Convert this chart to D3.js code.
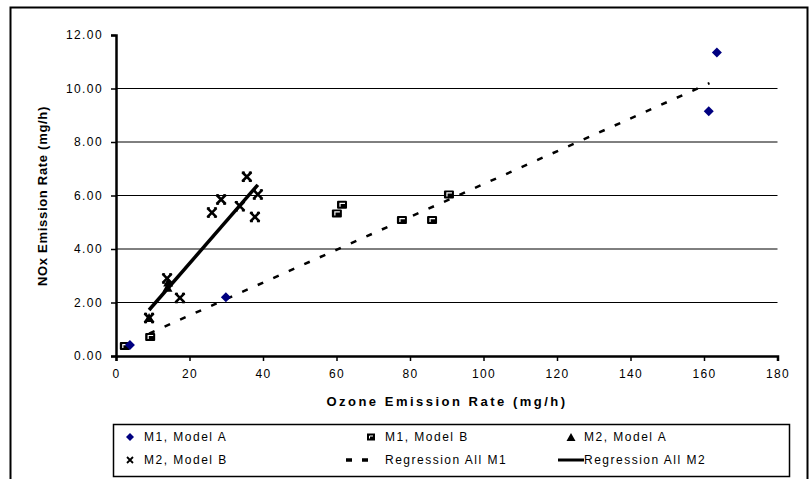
<!DOCTYPE html>
<html>
<head>
<meta charset="utf-8">
<script src="https://cdn.jsdelivr.net/npm/d3@7"></script>
<style>
  body { margin: 0; background: #fff; }
  text { font-family: "Liberation Sans", Arial, sans-serif; }
</style>
</head>
<body>
<div id="chart"></div>
<script>
// data
var m1A = [[3.8, 0.41], [29.9, 2.2], [161.3, 9.15], [163.5, 11.35]];
var m1B = [[2.4, 0.37], [9.3, 0.71], [60.1, 5.33], [61.5, 5.65], [77.8, 5.08], [86.0, 5.08], [90.6, 6.04]];
var m2A = [[9.0, 1.42], [14.0, 2.55], [14.2, 2.75]];
var m2B = [[9.0, 1.42], [13.9, 2.9], [17.4, 2.17], [26.1, 5.36], [28.6, 5.85], [33.7, 5.6], [35.6, 6.7], [37.8, 5.2], [38.6, 6.04]];
var regM1 = [[9.0, 0.84], [161.5, 10.2]];
var regM2 = [[9.0, 1.72], [38.6, 6.4]];
var xTicks = [0, 20, 40, 60, 80, 100, 120, 140, 160, 180];
var yTicks = [0, 2, 4, 6, 8, 10, 12];

var width = 810, height = 479;
var svg = d3.select("#chart").append("svg")
    .attr("width", width).attr("height", height);

// outer chart frame
svg.append("rect")
    .attr("x", 10.5).attr("y", 7.5)
    .attr("width", 797).attr("height", 490)
    .attr("fill", "none").attr("stroke", "#000").attr("stroke-width", 2);

var x = d3.scaleLinear().domain([0, 180]).range([116, 777.5]);
var y = d3.scaleLinear().domain([0, 12]).range([356, 35]);

// gridlines (not at top)
svg.append("g").selectAll("line")
    .data(yTicks.filter(function (d) { return d > 0 && d < 12; }))
    .enter().append("line")
    .attr("x1", x(0)).attr("x2", x(180))
    .attr("y1", function (d) { return y(d); })
    .attr("y2", function (d) { return y(d); })
    .attr("stroke", "#000").attr("stroke-width", 1);

// axes
var xAxis = svg.append("g")
    .attr("transform", "translate(0," + y(0) + ")")
    .call(d3.axisBottom(x).tickValues(xTicks).tickSize(5).tickPadding(8).tickFormat(d3.format("d")));
var yAxis = svg.append("g")
    .attr("transform", "translate(" + x(0) + ",0)")
    .call(d3.axisLeft(y).tickValues(yTicks).tickSize(5).tickPadding(8).tickFormat(d3.format(".2f")));

[xAxis, yAxis].forEach(function (a) {
    a.select(".domain").attr("stroke-width", 2.5);
    a.selectAll(".tick line").attr("stroke-width", 1.5);
    a.selectAll("text")
        .attr("font-size", 12)
        .attr("fill", "#000")
        .style("letter-spacing", "1.4px")
        .style("font-family", "Liberation Sans, Arial, sans-serif");
});

// axis titles
svg.append("text")
    .attr("x", 447).attr("y", 406)
    .attr("text-anchor", "middle")
    .attr("font-size", 13).attr("font-weight", "bold")
    .style("letter-spacing", "2.5px")
    .text("Ozone Emission Rate (mg/h)");
svg.append("text")
    .attr("transform", "translate(47,196) rotate(-90)")
    .attr("text-anchor", "middle")
    .attr("font-size", 13).attr("font-weight", "bold")
    .style("letter-spacing", "0.7px")
    .text("NOx Emission Rate (mg/h)");

// regression lines
var line = d3.line().x(function (d) { return x(d[0]); }).y(function (d) { return y(d[1]); });
svg.append("path").datum(regM1)
    .attr("d", line).attr("fill", "none")
    .attr("stroke", "#000").attr("stroke-width", 2.5)
    .attr("stroke-dasharray", "6,11");
svg.append("path").datum(regM2)
    .attr("d", line).attr("fill", "none")
    .attr("stroke", "#000").attr("stroke-width", 3.5);

// marker drawers
function drawDiamond(g, cx, cy, r) {
    g.append("path")
        .attr("d", "M" + cx + "," + (cy - r) + "L" + (cx + r) + "," + cy + "L" + cx + "," + (cy + r) + "L" + (cx - r) + "," + cy + "Z")
        .attr("fill", "#000080");
}
function drawSquare(g, cx, cy) {
    g.append("rect")
        .attr("x", cx - 5).attr("y", cy - 4).attr("width", 10).attr("height", 8)
        .attr("rx", 1).attr("fill", "#000");
    g.append("path")
        .attr("d", "M" + (cx - 2) + "," + (cy + 2) + "V" + (cy - 1.5) + "H" + (cx + 3))
        .attr("fill", "none").attr("stroke", "#fff").attr("stroke-width", 1.2);
}
function drawTriangle(g, cx, cy, r) {
    g.append("path")
        .attr("d", "M" + cx + "," + (cy - r) + "L" + (cx + r) + "," + (cy + r * 0.8) + "L" + (cx - r) + "," + (cy + r * 0.8) + "Z")
        .attr("fill", "#000");
}
function drawCross(g, cx, cy, r) {
    g.append("path")
        .attr("d", "M" + (cx - r) + "," + (cy - r) + "L" + (cx + r) + "," + (cy + r) + "M" + (cx + r) + "," + (cy - r) + "L" + (cx - r) + "," + (cy + r))
        .attr("stroke", "#000").attr("stroke-width", 2.6);
    g.append("path")
        .attr("d", "M" + (cx - r - 0.5) + "," + (cy - r) + "h3M" + (cx + r + 0.5) + "," + (cy - r) + "h-3" +
                   "M" + (cx - r - 0.5) + "," + (cy + r) + "h3M" + (cx + r + 0.5) + "," + (cy + r) + "h-3")
        .attr("stroke", "#000").attr("stroke-width", 1.5);
}

var pts = svg.append("g");
m1B.forEach(function (d) { drawSquare(pts, x(d[0]), y(d[1])); });
m2A.forEach(function (d) { drawTriangle(pts, x(d[0]), y(d[1]), 5); });
m2B.forEach(function (d) { drawCross(pts, x(d[0]), y(d[1]), 4.5); });
m1A.forEach(function (d) { drawDiamond(pts, x(d[0]), y(d[1]), 5); });

// legend
var lg = svg.append("g");
lg.append("rect")
    .attr("x", 113.5).attr("y", 424.5).attr("width", 676).attr("height", 52)
    .attr("fill", "#fff").attr("stroke", "#000").attr("stroke-width", 1.5);

var legendItems = [
    { label: "M1, Model A", col: 0, row: 0, kind: "diamond" },
    { label: "M1, Model B", col: 1, row: 0, kind: "square" },
    { label: "M2, Model A", col: 2, row: 0, kind: "triangle" },
    { label: "M2, Model B", col: 0, row: 1, kind: "cross" },
    { label: "Regression All M1", col: 1, row: 1, kind: "dash" },
    { label: "Regression All M2", col: 2, row: 1, kind: "solid" }
];
var colText = [144, 385, 584];
var rowY = [437, 460];

legendItems.forEach(function (it) {
    var tx = colText[it.col], ty = rowY[it.row];
    if (it.kind === "diamond") drawDiamond(lg, tx - 14, ty, 4);
    if (it.kind === "square") {
        lg.append("rect").attr("x", tx - 18).attr("y", ty - 3.5).attr("width", 8).attr("height", 7).attr("fill", "#000");
        lg.append("path").attr("d", "M" + (tx - 15.5) + "," + (ty + 1.5) + "V" + (ty - 1) + "H" + (tx - 12))
            .attr("stroke", "#fff").attr("fill", "none").attr("stroke-width", 1);
    }
    if (it.kind === "triangle") drawTriangle(lg, tx - 13, ty + 0.5, 4.5);
    if (it.kind === "cross") {
        lg.append("path")
            .attr("d", "M" + (tx - 17) + "," + (ty - 3) + "L" + (tx - 11) + "," + (ty + 3) + "M" + (tx - 11) + "," + (ty - 3) + "L" + (tx - 17) + "," + (ty + 3))
            .attr("stroke", "#000").attr("stroke-width", 1.8);
    }
    if (it.kind === "dash") {
        lg.append("line").attr("x1", tx - 39).attr("x2", tx - 8).attr("y1", ty).attr("y2", ty)
            .attr("stroke", "#000").attr("stroke-width", 3.5).attr("stroke-dasharray", "6,10");
    }
    if (it.kind === "solid") {
        lg.append("line").attr("x1", tx - 26).attr("x2", tx).attr("y1", ty).attr("y2", ty)
            .attr("stroke", "#000").attr("stroke-width", 3);
    }
    lg.append("text")
        .attr("x", tx).attr("y", ty + 4)
        .attr("font-size", 12)
        .style("letter-spacing", "1.5px")
        .text(it.label);
});
</script>
</body>
</html>
